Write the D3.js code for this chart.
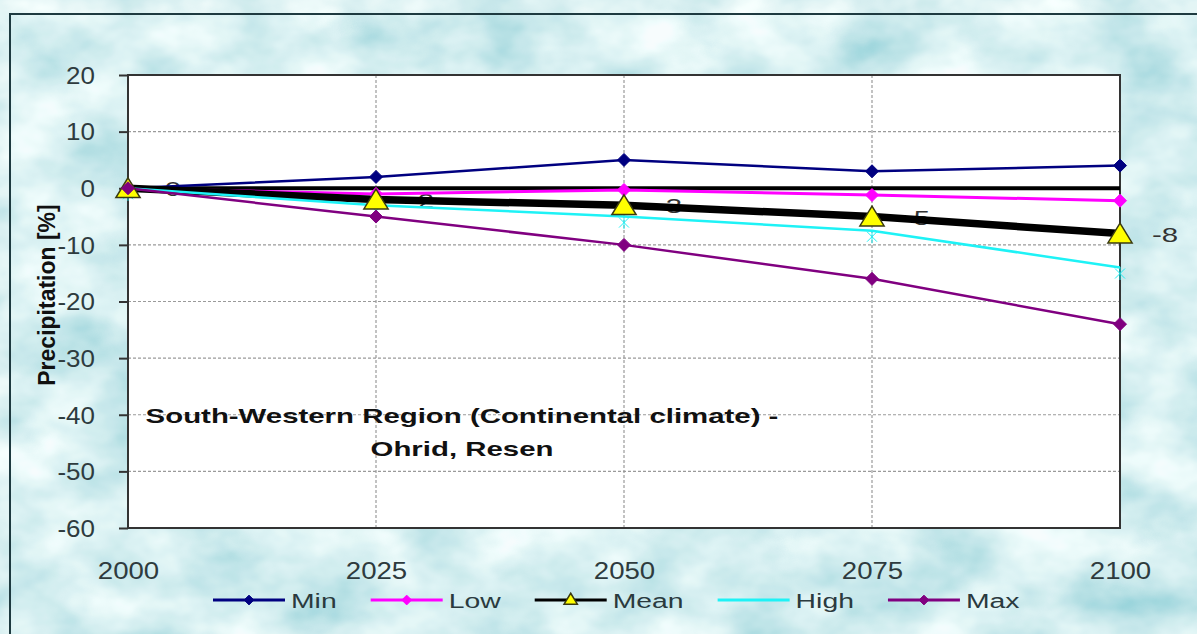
<!DOCTYPE html>
<html>
<head>
<meta charset="utf-8">
<script src="https://cdn.jsdelivr.net/npm/d3@7"></script>
<style>
  html, body { margin: 0; padding: 0; background: #ffffff; }
  svg { display: block; font-family: "Liberation Sans", Arial, sans-serif; }
</style>
</head>
<body>
<svg id="chart" width="1197" height="634"></svg>
<script>
// Projected precipitation change, South-Western region
const years = [2000, 2025, 2050, 2075, 2100];
const minVals  = [0, 2, 5, 3, 4];
const lowVals  = [0, -1, -0.3, -1.2, -2.2];
const meanVals = [0, -2, -3, -5, -8];
const highVals = [0, -3, -5, -7.5, -14];
const maxVals  = [0, -5, -10, -16, -24];
const seriesNames = ["Min", "Low", "Mean", "High", "Max"];
const yTicks = [20, 10, 0, -10, -20, -30, -40, -50, -60];
const yTitle = "Precipitation [%]";
const noteLines = ["South-Western Region (Continental climate) -", "Ohrid, Resen"];

const W = 1197, H = 634;
const plot = { left: 128, right: 1120, top: 75, bottom: 528 };

const svg = d3.select("#chart");
const defs = svg.append("defs");

// mottled water-like backdrop
const f = defs.append("filter").attr("id", "water")
  .attr("x", 0).attr("y", 0).attr("width", W + 20).attr("height", H + 20)
  .attr("filterUnits", "userSpaceOnUse");
f.append("feTurbulence").attr("type", "fractalNoise")
  .attr("baseFrequency", "0.011 0.016").attr("numOctaves", 4).attr("seed", 7).attr("result", "n");
f.append("feColorMatrix").attr("in", "n").attr("type", "matrix")
  .attr("values", "0.95 0 0 0 0.22  0.55 0 0 0 0.60  0.45 0 0 0 0.66  0 0 0 0 1");

const x = d3.scaleLinear().domain([2000, 2100]).range([plot.left, plot.right]);
const y = d3.scaleLinear().domain([-60, 20]).range([plot.bottom, plot.top]);

// outer frame with textured fill
svg.append("rect").attr("x", 10).attr("y", 14).attr("width", W).attr("height", H)
  .attr("fill", "#b6e5ec");
svg.append("rect").attr("x", 10).attr("y", 14).attr("width", W).attr("height", H)
  .attr("filter", "url(#water)").attr("opacity", 0.9);
svg.append("rect").attr("x", 10).attr("y", 14).attr("width", W).attr("height", H)
  .attr("fill", "none").attr("stroke", "#1e3a40").attr("stroke-width", 2);

// plot area
svg.append("rect")
  .attr("x", plot.left).attr("y", plot.top)
  .attr("width", plot.right - plot.left).attr("height", plot.bottom - plot.top)
  .attr("fill", "#ffffff");

// gridlines
const grid = svg.append("g").attr("stroke", "#9a9a9a").attr("stroke-width", 1.2)
  .attr("stroke-dasharray", "3,2");
grid.selectAll("line.h").data(yTicks.filter(v => v !== 20 && v !== -60 && v !== 0))
  .join("line").attr("class", "h")
  .attr("x1", plot.left).attr("x2", plot.right)
  .attr("y1", d => y(d)).attr("y2", d => y(d));
grid.selectAll("line.v").data(years.slice(1, -1))
  .join("line").attr("class", "v")
  .attr("x1", d => x(d)).attr("x2", d => x(d))
  .attr("y1", plot.top).attr("y2", plot.bottom);

// helper: horizontally widened text
function widen(sel, sx) {
  sel.each(function () {
    const t = d3.select(this);
    const tx = +t.attr("x") || 0, ty = +t.attr("y") || 0;
    t.attr("x", 0).attr("y", 0).attr("transform", `translate(${tx},${ty}) scale(${sx},1)`);
  });
}

// y axis
const yAxis = svg.append("g").attr("transform", `translate(${plot.left},0)`)
  .call(d3.axisLeft(y).tickValues(yTicks).tickSize(9).tickPadding(24).tickFormat(d => String(d)));
yAxis.select(".domain").remove();
yAxis.selectAll(".tick line").attr("stroke", "#333").attr("stroke-width", 2);
yAxis.selectAll(".tick text").attr("font-size", 23).attr("fill", "#2e3b3e")
  .attr("font-family", "Liberation Sans, Arial, sans-serif")
  .attr("dy", "0.36em");
yAxis.selectAll(".tick text").each(function () {
  const t = d3.select(this);
  const tx = +t.attr("x");
  t.attr("x", 0).attr("transform", `translate(${tx},0) scale(1.13,1)`);
});

// x axis labels
const xAxis = svg.append("g").attr("transform", `translate(0,${plot.bottom})`)
  .call(d3.axisBottom(x).tickValues(years).tickSize(0).tickPadding(35).tickFormat(d => String(d)));
xAxis.select(".domain").remove();
xAxis.selectAll(".tick text").attr("font-size", 23).attr("fill", "#2e3b3e")
  .attr("font-family", "Liberation Sans, Arial, sans-serif");
xAxis.selectAll(".tick text").each(function () {
  const t = d3.select(this);
  const ty = +t.attr("y");
  t.attr("y", 0).attr("transform", `translate(0,${ty}) scale(1.2,1)`);
});

// plot border
svg.append("rect")
  .attr("x", plot.left).attr("y", plot.top)
  .attr("width", plot.right - plot.left).attr("height", plot.bottom - plot.top)
  .attr("fill", "none").attr("stroke", "#333").attr("stroke-width", 2);

// y axis title
svg.append("text")
  .attr("transform", `translate(55,295) rotate(-90)`)
  .attr("text-anchor", "middle")
  .attr("font-size", 23).attr("font-weight", "bold").attr("fill", "#111")
  .text(yTitle);

// region note
const note = svg.append("g").attr("font-weight", "bold").attr("font-size", 21)
  .attr("fill", "#111").attr("text-anchor", "middle");
noteLines.forEach((s, i) => {
  note.append("text").attr("x", 462).attr("y", 423 + i * 33).text(s);
});
widen(note.selectAll("text"), 1.4);

// Mean value labels (under the lines)
const labels = svg.append("g").attr("font-size", 21).attr("fill", "#333")
  .attr("text-anchor", "middle");
labels.selectAll("text").data(years.map((yr, i) => ({ yr, v: meanVals[i] })))
  .join("text")
  .attr("x", d => x(d.yr) + 45)
  .attr("y", d => y(d.v) + 8)
  .text(d => String(d.v));
widen(labels.selectAll("text"), 1.4);

// zero line across the plot
svg.append("line")
  .attr("x1", x(2000)).attr("x2", x(2100))
  .attr("y1", y(0)).attr("y2", y(0))
  .attr("stroke", "#000").attr("stroke-width", 4);

const series = [
  { name: "Min",  vals: minVals,  color: "#000080", width: 2.5, marker: "diamond" },
  { name: "Low",  vals: lowVals,  color: "#ff00ff", width: 3,   marker: "diamond" },
  { name: "Mean", vals: meanVals, color: "#000000", width: 7.5, marker: "triangle" },
  { name: "High", vals: highVals, color: "#1ef2f6", width: 2.5, marker: "star" },
  { name: "Max",  vals: maxVals,  color: "#800080", width: 2.5, marker: "diamond" }
];

const line = d3.line().x(d => x(d.yr)).y(d => y(d.v));
const pts = s => years.map((yr, i) => ({ yr, v: s.vals[i] }));

series.forEach(s => {
  svg.append("path").datum(pts(s))
    .attr("fill", "none").attr("stroke", s.color).attr("stroke-width", s.width)
    .attr("stroke-linejoin", "round")
    .attr("d", line);
});

const diamond = r => `M0,${-r}L${r},0L0,${r}L${-r},0Z`;
const triangle = r => `M0,${-r * 0.95}L${r * 1.1},${r * 0.85}L${-r * 1.1},${r * 0.85}Z`;
const star = r => `M${-r},${-r}L${r},${r}M${r},${-r}L${-r},${r}M0,${-r * 1.3}L0,${r * 1.3}`;

function drawMarker(g, s, cx, cy, scale) {
  if (s.marker === "diamond") {
    g.append("path").attr("d", diamond(6.5 * scale))
      .attr("transform", `translate(${cx},${cy})`)
      .attr("fill", s.color).attr("stroke", s.color).attr("stroke-width", 1);
  } else if (s.marker === "triangle") {
    g.append("path").attr("d", triangle(11 * scale))
      .attr("transform", `translate(${cx},${cy})`)
      .attr("fill", "#ffff00").attr("stroke", "#3a3a10").attr("stroke-width", 1.5);
  } else if (s.marker === "star") {
    g.append("path").attr("d", star(5 * scale))
      .attr("transform", `translate(${cx},${cy + 6})`)
      .attr("fill", "none").attr("stroke", s.color).attr("stroke-width", 1);
  }
}

const markerOrder = ["High", "Min", "Low", "Mean", "Max"];
const mk = svg.append("g");
markerOrder.forEach(n => {
  const s = series.find(d => d.name === n);
  pts(s).forEach(p => drawMarker(mk, s, x(p.yr), y(p.v), 1));
});

// legend
const legend = svg.append("g").attr("font-size", 21).attr("fill", "#2a3a3e");
let lx = 213;
const ly = 600;
series.forEach(s => {
  const g = legend.append("g");
  g.append("line").attr("x1", lx).attr("x2", lx + 72).attr("y1", ly).attr("y2", ly)
    .attr("stroke", s.color).attr("stroke-width", 3);
  if (s.marker === "diamond") drawMarker(g, s, lx + 36, ly, 0.75);
  if (s.marker === "triangle") drawMarker(g, s, lx + 36, ly - 1, 0.55);
  const t = g.append("text").attr("x", lx + 78).attr("y", ly + 8).text(s.name);
  const w = t.node().getComputedTextLength() * 1.35;
  widen(t, 1.35);
  lx = lx + 78 + w + 34;
});
</script>
</body>
</html>
